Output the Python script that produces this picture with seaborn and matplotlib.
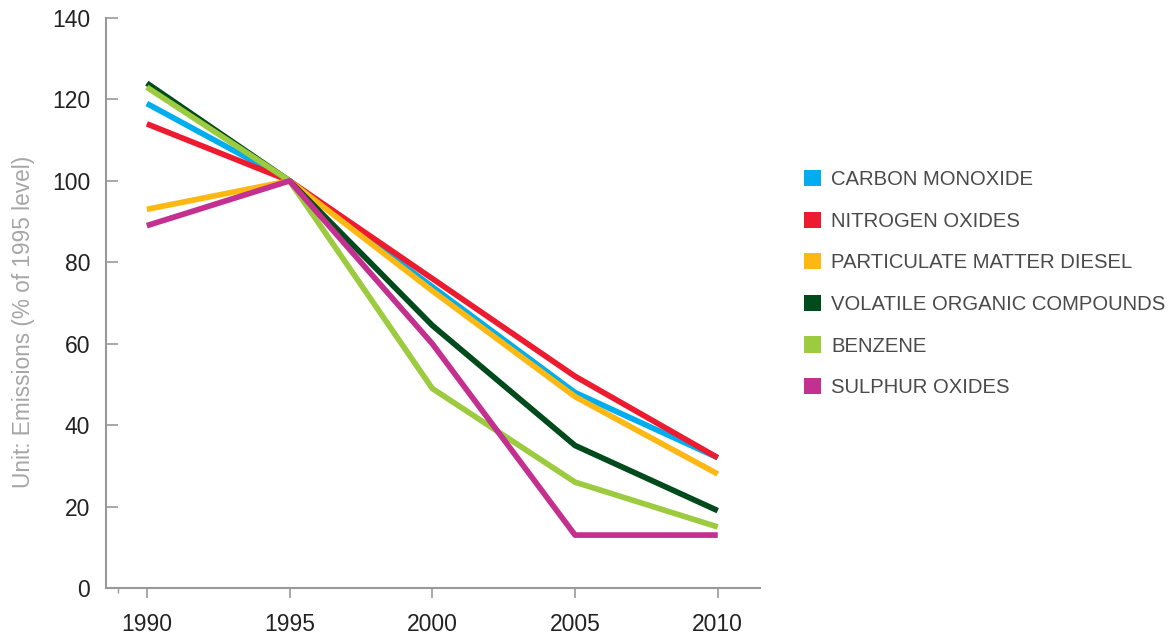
import matplotlib
matplotlib.use("Agg")
import matplotlib.pyplot as plt
from matplotlib.patches import Patch
import seaborn as sns
import pandas as pd

years = [1990, 1995, 2000, 2005, 2010]
carbon_monoxide = [119, 100, 74, 48, 32]
nitrogen_oxides = [114, 100, 76, 52, 32]
particulate_matter_diesel = [93, 100, 73, 47, 28]
volatile_organic_compounds = [124, 100, 64.5, 35, 19]
benzene = [123, 100, 49, 26, 15]
sulphur_oxides = [89, 100, 60, 13, 13]

series_names = ["CARBON MONOXIDE", "NITROGEN OXIDES", "PARTICULATE MATTER DIESEL",
                "VOLATILE ORGANIC COMPOUNDS", "BENZENE", "SULPHUR OXIDES"]
series_values = [carbon_monoxide, nitrogen_oxides, particulate_matter_diesel,
                 volatile_organic_compounds, benzene, sulphur_oxides]
colors = ["#00AEEF", "#ED1B2F", "#FDB813", "#004A1C", "#9DCB3F", "#C4308F"]
y_ticks = [0, 20, 40, 60, 80, 100, 120, 140]

rows = []
for name, vals in zip(series_names, series_values):
    for yr, v in zip(years, vals):
        rows.append({"year": yr, "value": v, "series": name})
df = pd.DataFrame(rows)

sns.set_theme(style="white")
plt.rcParams["font.family"] = ["Liberation Sans", "DejaVu Sans"]

fig = plt.figure(figsize=(11.72, 6.34), dpi=100)
ax = fig.add_axes([106 / 1172, 1 - 588 / 634, (760 - 106) / 1172, (588 - 18) / 634])

sns.lineplot(data=df, x="year", y="value", hue="series", hue_order=series_names,
             palette=dict(zip(series_names, colors)), linewidth=4.1, ax=ax,
             legend=False, solid_capstyle="butt")

ax.set_xlim(1988.57, 2011.48)
ax.set_ylim(0, 140)
ax.set_xticks(years)
ax.set_xticks([1989], minor=True)
ax.set_yticks(y_ticks)
ax.set_xlabel("")
ax.set_ylabel("Unit: Emissions (% of 1995 level)", fontsize=16.3, color="#a6a6a6")
ax.yaxis.set_label_coords(-0.108, 0.467)

for s in ["top", "right"]:
    ax.spines[s].set_visible(False)
for s in ["left", "bottom"]:
    ax.spines[s].set_color("#999999")
    ax.spines[s].set_linewidth(1.5)

ax.tick_params(axis="y", direction="in", length=8.6, width=1.2, color="#999999",
               labelsize=16.5, labelcolor="#222222", pad=11.5, left=True)
ax.tick_params(axis="x", which="major", direction="out", length=7.2, width=1.2,
               color="#999999", labelsize=16.5, labelcolor="#222222", pad=10.5, bottom=True)
ax.tick_params(axis="x", which="minor", direction="out", length=3.6, width=1.0,
               color="#999999", bottom=True)

handles = [Patch(facecolor=c, edgecolor="none") for c in colors]
fig.legend(handles, series_names, loc="upper left",
           bbox_to_anchor=(804 / 1172, 1 - 170 / 634), frameon=False,
           fontsize=14.6, labelcolor="#4a4a4a", handlelength=0.85, handleheight=0.85,
           handletextpad=0.5, labelspacing=1.11, borderpad=0, borderaxespad=0)

fig.savefig("out.png", dpi=100, facecolor="white")
